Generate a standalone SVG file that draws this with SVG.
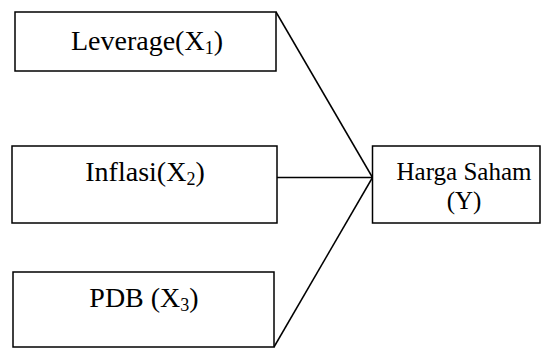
<svg xmlns="http://www.w3.org/2000/svg" width="542" height="348" viewBox="0 0 542 348">
<style>
.box{fill:#fff;stroke:#000;stroke-width:1.5}
.lbl{font-family:'Liberation Serif','Times New Roman',serif;font-size:28px;fill:#000;text-anchor:middle}
.rt{font-size:25px}
.sub{font-size:18px}
.conn{stroke:#000;stroke-width:1.5;fill:none}
</style>
<rect width="542" height="348" fill="#fff"/>
<g id="connectors">
<line class="conn" x1="276" y1="12" x2="372.5" y2="177.5"/>
<line class="conn" x1="277" y1="177.5" x2="372.5" y2="177.5"/>
<line class="conn" x1="274" y1="347" x2="372.5" y2="177.5"/>
</g>
<g id="leverage">
<rect class="box" x="15" y="12" width="261" height="59"/>
<text class="lbl" x="147" y="50">Leverage(X<tspan class="sub" dy="4">1</tspan><tspan dy="-4">)</tspan></text>
</g>
<g id="inflasi">
<rect class="box" x="12" y="146" width="265" height="77"/>
<text class="lbl" x="145" y="181">Inflasi(X<tspan class="sub" dy="4">2</tspan><tspan dy="-4">)</tspan></text>
</g>
<g id="pdb">
<rect class="box" x="13" y="272" width="261" height="75"/>
<text class="lbl" x="144" y="307">PDB (X<tspan class="sub" dy="4">3</tspan><tspan dy="-4">)</tspan></text>
</g>
<g id="harga">
<rect class="box" x="372.5" y="146" width="167.5" height="77"/>
<text class="lbl rt" x="464" y="180">Harga Saham</text>
<text class="lbl rt" x="464" y="209">(Y)</text>
</g>
</svg>
